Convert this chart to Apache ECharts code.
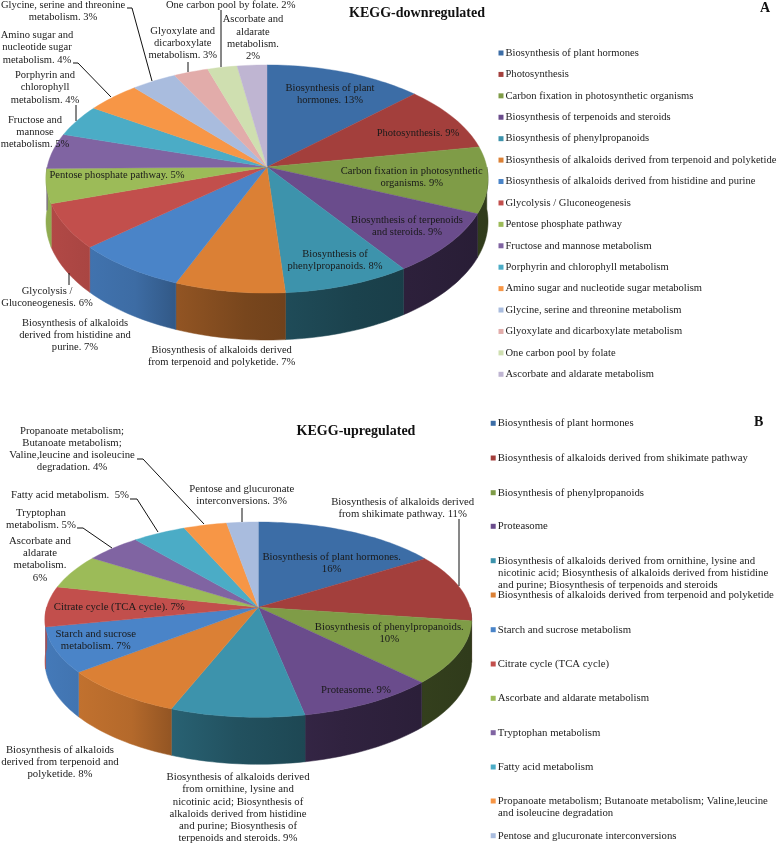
<!DOCTYPE html>
<html>
<head>
<meta charset="utf-8">
<style>html,body{margin:0;padding:0;background:#fff}#c{width:778px;height:845px}</style>
<script src="https://cdn.jsdelivr.net/npm/echarts@6/dist/echarts.min.js"></script>
</head>
<body>
<div id="c"></div>
<script>
// ---- Data ----
const downNames = ["Biosynthesis of plant hormones","Photosynthesis","Carbon fixation in photosynthetic organisms","Biosynthesis of terpenoids and steroids","Biosynthesis of phenylpropanoids","Biosynthesis of alkaloids derived from terpenoid and polyketide","Biosynthesis of alkaloids derived from histidine and purine","Glycolysis / Gluconeogenesis","Pentose phosphate pathway","Fructose and mannose metabolism","Porphyrin and chlorophyll metabolism","Amino sugar and nucleotide sugar metabolism","Glycine, serine and threonine metabolism","Glyoxylate and dicarboxylate metabolism","One carbon pool by folate","Ascorbate and aldarate metabolism"];
const downValues = [12.8,9.3,9.4,8.9,8.4,7.3,7.4,6.4,4.9,5.0,4.5,4.4,3.7,2.8,2.4,2.4];
const downLabels = ["Biosynthesis of plant\nhormones. 13%","Photosynthesis. 9%","Carbon fixation in photosynthetic\norganisms. 9%","Biosynthesis of terpenoids\nand steroids. 9%","Biosynthesis of\nphenylpropanoids. 8%","Biosynthesis of alkaloids derived\nfrom terpenoid and polyketide. 7%","Biosynthesis of alkaloids\nderived from histidine and\npurine. 7%","Glycolysis /\nGluconeogenesis. 6%","Pentose phosphate pathway. 5%","Fructose and\nmannose\nmetabolism. 5%","Porphyrin and\nchlorophyll\nmetabolism. 4%","Amino sugar and\nnucleotide sugar\nmetabolism. 4%","Glycine, serine and threonine\nmetabolism. 3%","Glyoxylate and\ndicarboxylate\nmetabolism. 3%","One carbon pool by folate. 2%","Ascorbate and\naldarate\nmetabolism.\n2%"];

const upNames = ["Biosynthesis of plant hormones","Biosynthesis of alkaloids derived from shikimate pathway","Biosynthesis of phenylpropanoids","Proteasome","Biosynthesis of alkaloids derived from ornithine, lysine and\nnicotinic acid; Biosynthesis of alkaloids derived from histidine\nand purine; Biosynthesis of terpenoids and steroids","Biosynthesis of alkaloids derived from terpenoid and polyketide","Starch and sucrose metabolism","Citrate cycle (TCA cycle)","Ascorbate and aldarate metabolism","Tryptophan metabolism","Fatty acid metabolism","Propanoate metabolism; Butanoate metabolism; Valine,leucine\nand isoleucine degradation","Pentose and glucuronate interconversions"];
const upValues = [15.9,11.3,10.4,9.3,9.0,8.4,7.5,6.7,5.7,4.8,4.6,3.7,2.7];
const upLabels = ["Biosynthesis of plant hormones.\n16%","Biosynthesis of alkaloids derived\nfrom shikimate pathway. 11%","Biosynthesis of phenylpropanoids.\n10%","Proteasome. 9%","Biosynthesis of alkaloids derived\nfrom ornithine, lysine and\nnicotinic acid; Biosynthesis of\nalkaloids derived from histidine\nand purine; Biosynthesis of\nterpenoids and steroids. 9%","Biosynthesis of alkaloids\nderived from terpenoid and\npolyketide. 8%","Starch and sucrose\nmetabolism. 7%","Citrate cycle (TCA cycle). 7%","Ascorbate and\naldarate\nmetabolism.\n6%","Tryptophan\nmetabolism. 5%","Fatty acid metabolism.  5%","Propanoate metabolism;\nButanoate metabolism;\nValine,leucine and isoleucine\ndegradation. 4%","Pentose and glucuronate\ninterconversions. 3%"];

// ---- Styles and layout ----
const palette = ["#3C6DA6","#A33F3C","#7F9C47","#6A4C8C","#3D93AC","#DB8035","#4A84C8","#C24F4C","#9CBB58","#8064A2","#4BACC6","#F79646","#A9BCDE","#E2ACAA","#CFDFB0","#BFB5D2"];
const upColorIdx = [0,1,2,3,4,5,6,7,8,9,10,11,12];
const FONT = "'Liberation Serif'";
const SIZE_A = 10.55, SIZE_B = 10.75, LINE_H = 12.2;

const geomA = {cx:267, cy:167, A:219.8, B:112.8, k:0.1053, D:42};
const geomB = {cx:258.3, cy:607.3, A:211.6, B:96.1, k:0.1266, D:41};

const downLabelPos = [[330,94.5],[418,133.3],[411.7,177.5],[407,226],[335,260],[221.7,356],[75,335],[47,297.5],[117,175.7],[35,132],[45,87.7],[37,47.7],[63,11],[182.7,43],[230.7,5.5],[253,38]];
const upLabelPos = [[331.7,563],[402.7,508],[389.3,633.5],[356,689.7],[238,807.8],[60,762.3],[95.7,640],[119.3,607],[40,559.4],[41,519],[70,495.3],[72,449.3],[241.7,495.3]];
const leaders = [
 [[127,8],[132,8],[152,81]],[[73,63],[78,63],[111,97]],[[76,105],[76,121]],[[188,62],[188,72]],[[221,10],[221,67]],[[69,273],[69,285]],
 [[137,459],[143,459],[204,524]],[[130,499],[137,499],[158,532]],[[77,528],[83,528],[112,548]],[[242,508],[242,522]],[[459,519],[459,586]]
];
const downLegendTop = 53, downLegendStep = 21.42, downLegendX = 498.5;
const upLegendRows = [423.3,458,492.7,526.3,560.7,595,629.7,664,698.3,732.7,767,801,835.7], upLegendX = 490.7;

function project(g, deg){
  const a = deg*Math.PI/180, x = Math.sin(a), y = Math.cos(a), w = 1 + g.k*y;
  return [g.cx + g.A*x/w, g.cy - g.B*y/w, g.D/w];
}
function shade(hex, f){
  const n = parseInt(hex.slice(1),16);
  const c = [n>>16&255, n>>8&255, n&255].map(v=>Math.round(v*f));
  return `rgb(${c[0]},${c[1]},${c[2]})`;
}
function wallFill(color, g){
  const f = [[0,.92],[.2,.82],[.3,.66],[.45,.55],[.7,.45],[1,.38]];
  return {type:'linear', global:true, x:g.cx-g.A, y:0, x2:g.cx+g.A, y2:0,
    colorStops:f.map(s=>({offset:s[0], color:shade(color,s[1])}))};
}
function sliceRender(g, color){
  return function(params, api){
    const share = api.value(0), start = api.value(1);
    const a0 = start*3.6, a1 = (start+share)*3.6;
    const arc = [];
    const n = Math.max(4, Math.ceil((a1-a0)/1.5));
    for(let i=0;i<=n;i++) arc.push(project(g, a0+(a1-a0)*i/n));
    const top = [[g.cx,g.cy]].concat(arc.map(p=>[p[0],p[1]]));
    const children = [];
    const f0 = Math.max(a0,90), f1 = Math.min(a1,270);
    if(f1>f0){
      const wall = [], m = Math.max(3, Math.ceil((f1-f0)/1.5));
      const edge = [];
      for(let i=0;i<=m;i++) edge.push(project(g, f0+(f1-f0)*i/m));
      edge.forEach(p=>wall.push([p[0],p[1]]));
      edge.slice().reverse().forEach(p=>wall.push([p[0],p[1]+p[2]]));
      const fill = wallFill(color,g);
      children.push({type:'polygon', z2:1, shape:{points:wall}, style:{fill:fill, stroke:fill, lineWidth:.5}});
    }
    children.push({type:'polygon', z2:10, shape:{points:top}, style:{fill:color, stroke:color, lineWidth:.4}});
    return {type:'group', children:children};
  };
}
function buildSeries(tag, names, values, colors, g){
  let cum = 0;
  return names.map((nm,i)=>{
    const s = {type:'custom', name:tag+'|'+nm, coordinateSystem:'none', silent:true,
      itemStyle:{color:colors[i]}, data:[[values[i],cum]], renderItem:sliceRender(g,colors[i]), animation:false};
    cum += values[i];
    return s;
  });
}
function legendEntry(tag, nm, x, y, size){
  return {data:[{name:tag+'|'+nm, icon:'rect'}], orient:'vertical', left:x, top:y-6, padding:0,
    itemWidth:5, itemHeight:5, selectedMode:false,
    formatter:s=>s.split('|')[1].split('\n')[0],
    textStyle:{fontFamily:FONT, fontSize:size, color:'#222', lineHeight:12, padding:[0,0,0,-3]}};
}
const upColors = upColorIdx.map(i=>palette[i]);
const legends = downNames.map((n,i)=>legendEntry('A',n,downLegendX,downLegendTop+i*downLegendStep,SIZE_A))
  .concat(upNames.map((n,i)=>legendEntry('B',n,upLegendX,upLegendRows[i],SIZE_B)));

const graphics = [];
function addLabels(labels, pos, size){
  labels.forEach((t,i)=>graphics.push({type:'text', x:pos[i][0], y:pos[i][1], z:20,
    style:{text:t, fill:'#1a1a1a', font:size+'px '+FONT, lineHeight:LINE_H, align:'center', verticalAlign:'middle'}}));
}
addLabels(downLabels, downLabelPos, SIZE_A);
addLabels(upLabels, upLabelPos, SIZE_B);
// continuation lines of the long legend entries
upNames.forEach((n,i)=>{
  n.split('\n').slice(1).forEach((t,j)=>graphics.push({type:'text', x:upLegendX+7.3, y:upLegendRows[i]+12.2*(j+1), z:20,
    style:{text:t, fill:'#222', font:SIZE_B+'px '+FONT, align:'left', verticalAlign:'middle'}}));
});
leaders.forEach(p=>graphics.push({type:'polyline', z:15, shape:{points:p}, style:{stroke:'#111', lineWidth:1, fill:null}}));
graphics.push({type:'text', x:765, y:8, z:20, style:{text:'A', fill:'#111', font:'bold 14px '+FONT, align:'center', verticalAlign:'middle'}});
graphics.push({type:'text', x:758.7, y:422, z:20, style:{text:'B', fill:'#111', font:'bold 14px '+FONT, align:'center', verticalAlign:'middle'}});

const chart = echarts.init(document.getElementById('c'), null, {renderer:'canvas', width:778, height:845});
chart.setOption({
  animation:false,
  backgroundColor:'#fff',
  title:[
    {text:'KEGG-downregulated', left:412, top:1, textAlign:'center', textStyle:{fontFamily:FONT, fontWeight:'bold', fontSize:14, color:'#111'}},
    {text:'KEGG-upregulated', left:351, top:419, textAlign:'center', textStyle:{fontFamily:FONT, fontWeight:'bold', fontSize:14, color:'#111'}}
  ],
  legend:legends,
  series:buildSeries('A',downNames,downValues,palette,geomA).concat(buildSeries('B',upNames,upValues,upColors,geomB)),
  graphic:graphics
});
</script>
</body>
</html>
